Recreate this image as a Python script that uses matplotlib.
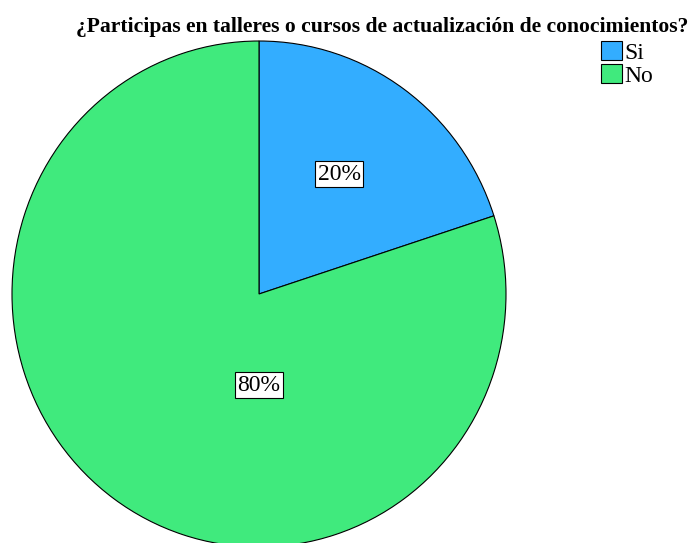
import matplotlib
matplotlib.use('Agg')

import matplotlib.pyplot as plt

categories = ["Si", "No"]
values = [20, 80]
colors = ["#33adff", "#40ea7d"]
title = "¿Participas en talleres o cursos de actualización de conocimientos?"


def main():
    plt.rcParams['font.family'] = ['Liberation Serif', 'DejaVu Serif']
    fig = plt.figure(figsize=(6.89, 5.43), dpi=100)

    # pie centre at (259, 294) px, slightly taller than wide
    rx, ry = 247, 253
    ax = fig.add_axes([(259 - rx) / 689, (543 - 294 - ry) / 543, 2 * rx / 689, 2 * ry / 543])
    wedges, texts = ax.pie(values, colors=colors, startangle=90, counterclock=False,
                           wedgeprops=dict(edgecolor="black", linewidth=0.8))
    ax.set_xlim(-1, 1)
    ax.set_ylim(-1, 1)
    ax.set_aspect('auto')

    # percentage labels in boxes
    box = dict(boxstyle="square,pad=0.1", facecolor="white", edgecolor="black", linewidth=0.8)
    label_pos = [(0.325, 0.474), (0.0, -0.36)]
    for v, (x, y) in zip(values, label_pos):
        ax.text(x, y, f"{v}%", ha="center", va="center", fontsize=17, bbox=box)

    fig.text(0.554, 0.951, title, ha="center", va="center", fontsize=15.6, fontweight="bold")

    fig.legend(wedges, categories, loc="upper left", bbox_to_anchor=(0.872, 0.925),
               frameon=False, fontsize=17, handlelength=0.9, handleheight=0.9,
               handletextpad=0.1, labelspacing=0.0, borderpad=0, borderaxespad=0)

    fig.savefig("out.png", dpi=100)


if __name__ == "__main__":
    main()
